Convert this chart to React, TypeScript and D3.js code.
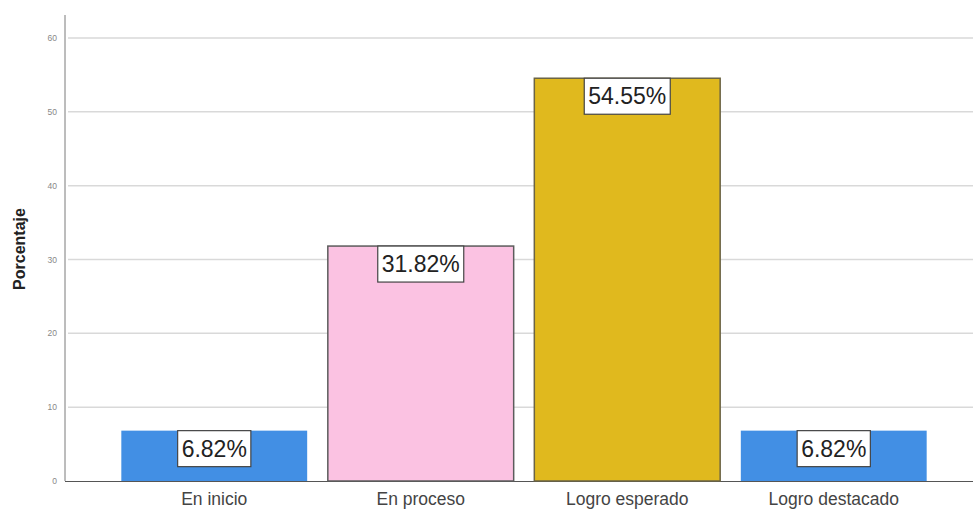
import React from "react";
import * as d3 from "d3";

const categories = ["En inicio", "En proceso", "Logro esperado", "Logro destacado"];
const values = [6.82, 31.82, 54.55, 6.82];
const labels = ["6.82%", "31.82%", "54.55%", "6.82%"];
const colors = ["#428fe4", "#fbc2e2", "#e0b91e", "#428fe4"];
const strokes = ["none", "#5c5c5c", "#6b6445", "none"];
const yTicks = [0, 10, 20, 30, 40, 50, 60];

const charW: Record<string, number> = { ".": 0.278, "%": 0.889 };
function textWidth(s: string, fs: number) {
  let w = 0;
  for (const ch of s) w += charW[ch] ?? 0.556;
  return w * fs;
}

export default function App() {
  const W = 973, H = 509;
  const y = d3.scaleLinear().domain([0, 60]).range([481, 38]);
  const x = d3.scaleBand<string>().domain(categories).range([111, 937]).paddingInner(0.1).paddingOuter(0.05);
  const axisX = 65;
  const fs = 23;
  return (
    <svg width={W} height={H} style={{ position: "absolute", left: 0, top: 0, background: "#fff" }} fontFamily="Arial, 'Liberation Sans', sans-serif">
      {yTicks.filter(t => t > 0).map(t => (
        <line key={t} x1={axisX + 3} x2={W} y1={y(t)} y2={y(t)} stroke="#d9d9d9" strokeWidth={1.5} />
      ))}
      <line x1={axisX} x2={axisX} y1={15} y2={y(0)} stroke="#7a7a7a" strokeWidth={1} />
      <line x1={axisX} x2={W} y1={y(0) + 0.5} y2={y(0) + 0.5} stroke="#555" strokeWidth={1} />
      {yTicks.map(t => (
        <text key={t} x={axisX - 8} y={y(t) + 3} fontSize={8.5} fill="#888" textAnchor="end">{t}</text>
      ))}
      <text transform={`translate(25,249) rotate(-90)`} textAnchor="middle" fontSize={16} fontWeight="bold" fill="#222">Porcentaje</text>
      {categories.map((c, i) => {
        const bx = x(c)!, bw = x.bandwidth();
        const top = y(values[i]);
        const h = y(0) - top;
        const cx = bx + bw / 2;
        const boxW = textWidth(labels[i], fs) + 8, boxH = 36;
        const small = h < boxH + 4;
        const boxY = small ? top + (h - boxH) / 2 - 1 : top;
        return (
          <g key={c}>
            <rect x={bx} y={top} width={bw} height={h} fill={colors[i]} stroke={strokes[i]} strokeWidth={1.5} />
            <rect x={cx - boxW / 2} y={boxY} width={boxW} height={boxH} fill="#fff" stroke="#444" strokeWidth={1.2} />
            <text x={cx} y={boxY + boxH / 2 + 8} textAnchor="middle" fontSize={fs} fill="#222">{labels[i]}</text>
            <text x={cx} y={505} textAnchor="middle" fontSize={17.5} fill="#444">{c}</text>
          </g>
        );
      })}
    </svg>
  );
}
